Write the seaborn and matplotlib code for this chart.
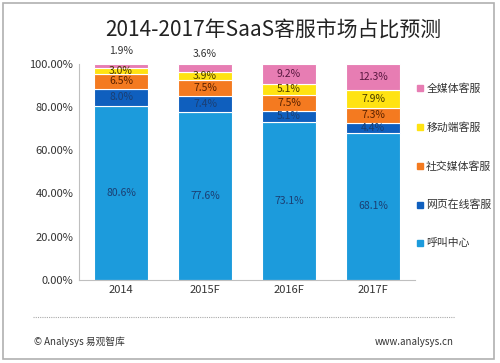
import numpy as np
import pandas as pd
import seaborn as sns
import matplotlib.pyplot as plt
import matplotlib.patches as mpatches
from matplotlib.lines import Line2D
from matplotlib.ticker import FuncFormatter

# datos
years = ['2014', '2015F', '2016F', '2017F']
series = ['呼叫中心', '网页在线客服', '社交媒体客服', '移动端客服', '全媒体客服']
call_center = [80.6, 77.6, 73.1, 68.1]
web_online = [8.0, 7.4, 5.1, 4.4]
social_media = [6.5, 7.5, 7.5, 7.3]
mobile = [3.0, 3.9, 5.1, 7.9]
all_media = [1.9, 3.6, 9.2, 12.3]

colors = ['#1C9BDC', '#0F5FBE', '#F47A20', '#FFE312', '#E77DB3']
text_colors = ['#1B3F73', '#1B3F73', '#5A2200', '#4A3A00', '#5A1840']

sns.set_style('white')
plt.rcParams['font.family'] = ['Noto Sans CJK SC', 'DejaVu Sans']

fig = plt.figure(figsize=(5, 3.63), dpi=100)
ax = fig.add_axes([0.158, 0.229, 0.672, 0.595])

values = [call_center, web_online, social_media, mobile, all_media]
bottom = np.zeros(len(years))
for name, vals, col, tcol in zip(series, values, colors, text_colors):
    df = pd.DataFrame({'year': years, 'val': vals})
    sns.barplot(data=df, x='year', y='val', color=col, width=0.64,
                saturation=1, bottom=bottom, edgecolor='white',
                linewidth=0.8, ax=ax, label=name)
    for i, v in enumerate(vals):
        if name == '全媒体客服' and v < 5:
            # etiqueta pequeña encima de la barra
            ax.text(i, 102.2 if v > 3 else 103.5, f'{v:.1f}%', ha='center',
                    va='bottom', fontsize=7.5, color='#333333', clip_on=False)
        else:
            ax.text(i, bottom[i] + v / 2, f'{v:.1f}%', ha='center',
                    va='center', fontsize=7.5, color=tcol)
    bottom = bottom + np.array(vals)

ax.set_ylim(0, 100)
ax.set_xlim(-0.5, 3.5)
ax.set_yticks(np.arange(0, 101, 20))
ax.yaxis.set_major_formatter(FuncFormatter(lambda v, p: f'{v:.2f}%'))
ax.tick_params(axis='both', labelsize=8, colors='#333333', length=0, pad=4)
ax.set_xlabel('')
ax.set_ylabel('')
for s in ['top', 'right']:
    ax.spines[s].set_visible(False)
for s in ['left', 'bottom']:
    ax.spines[s].set_color('#BFBFBF')
    ax.spines[s].set_linewidth(0.8)

# leyenda
handles = [Line2D([], [], marker='s', linestyle='', markersize=5,
                  color=c) for c in colors]
leg = ax.legend(handles[::-1], series[::-1], loc='upper left',
                bbox_to_anchor=(0.985, 0.93), frameon=False, fontsize=7.8,
                labelspacing=2.6, handletextpad=0.1, handlelength=1.0,
                borderaxespad=0)
for t in leg.get_texts():
    t.set_color('#333333')

fig.text(0.546, 0.917, '2014-2017年SaaS客服市场占比预测', ha='center',
         va='center', fontsize=15, color='#222222')

# pie de página
fig.add_artist(Line2D([0.066, 0.91], [0.127, 0.127], transform=fig.transFigure,
                      color='#AAAAAA', linestyle=(0, (1, 1)), linewidth=0.8))
fig.text(0.068, 0.058, '© Analysys 易观智库', fontsize=7, color='#333333',
         va='center')
fig.text(0.908, 0.058, 'www.analysys.cn', fontsize=7, color='#333333',
         va='center', ha='right')
fig.add_artist(mpatches.Rectangle((0.006, 0.01), 0.982, 0.982,
                                  transform=fig.transFigure, fill=False,
                                  edgecolor='#B0B0B0', linewidth=1.2))

fig.savefig('out.png', dpi=100)
